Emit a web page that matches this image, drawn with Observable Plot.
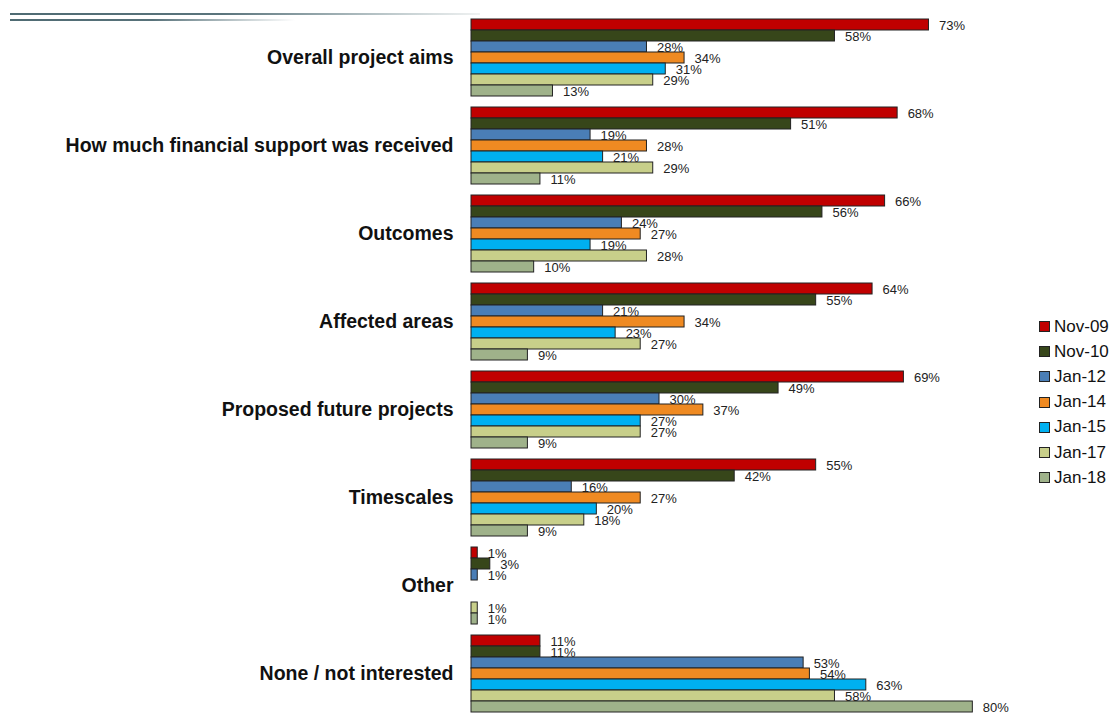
<!DOCTYPE html>
<html>
<head>
<meta charset="utf-8">
<script src="https://cdn.jsdelivr.net/npm/d3@7"></script>
<script src="https://cdn.jsdelivr.net/npm/@observablehq/plot@0.6"></script>
<style>
  html, body { margin: 0; padding: 0; background: #fff; }
  body { font-family: Arial, "Liberation Sans", sans-serif; }
  #wrap { position: relative; width: 1120px; height: 718px; overflow: hidden; }
  #chart { position: absolute; left: 0; top: 0; }
  .deco1 { position: absolute; left: 10px; top: 13px; width: 470px; height: 2px;
    background: linear-gradient(to right, #4f6b73 0%, #5a747c 45%, #c9d3d5 85%, #f0f2f2 100%); }
  .deco2 { position: absolute; left: 10px; top: 19px; width: 285px; height: 2px;
    background: linear-gradient(to right, #4f6b73 0%, #58727a 50%, #d0d8da 85%, #ffffff 100%); }
  #legend { position: absolute; left: 1039px; top: 314px; }
  .li { height: 25.2px; display: flex; align-items: center; font-size: 17px; color: #111; }
  .sw { width: 9px; height: 9px; border: 1px solid #222; margin-right: 4px; }
</style>
</head>
<body>
<div id="wrap">
  <div class="deco1"></div>
  <div class="deco2"></div>
  <div id="chart"></div>
  <div id="legend"></div>
</div>
<script>
const categories = [
  "Overall project aims",
  "How much financial support was received",
  "Outcomes",
  "Affected areas",
  "Proposed future projects",
  "Timescales",
  "Other",
  "None / not interested"
];
const series = ["Nov-09", "Nov-10", "Jan-12", "Jan-14", "Jan-15", "Jan-17", "Jan-18"];
const colors = ["#c00000", "#37461a", "#4a7eb6", "#ef8a22", "#00b0f0", "#c8cf8a", "#9fb28a"];

const nov09 = [73, 68, 66, 64, 69, 55, 1, 11];
const nov10 = [58, 51, 56, 55, 49, 42, 3, 11];
const jan12 = [28, 19, 24, 21, 30, 16, 1, 53];
const jan14 = [34, 28, 27, 34, 37, 27, null, 54];
const jan15 = [31, 21, 19, 23, 27, 20, null, 63];
const jan17 = [29, 29, 28, 27, 27, 18, 1, 58];
const jan18 = [13, 11, 10, 9, 9, 9, 1, 80];

const seriesValues = [nov09, nov10, jan12, jan14, jan15, jan17, jan18];

const data = [];
categories.forEach((c, i) => {
  series.forEach((s, j) => {
    const v = seriesValues[j][i];
    if (v != null) data.push({category: c, series: s, value: v});
  });
});

const plot = Plot.plot({
  width: 1120,
  height: 718,
  marginLeft: 471,
  marginRight: 85,
  marginTop: 18,
  marginBottom: 4,
  style: {fontFamily: "Arial, 'Liberation Sans', sans-serif", background: "transparent"},
  x: {domain: [0, 90], axis: null},
  y: {domain: series, axis: null, padding: 0},
  fy: {domain: categories, axis: null, paddingInner: 0.1, paddingOuter: 0},
  color: {domain: series, range: colors},
  marks: [
    Plot.barX(data, {
      fy: "category", y: "series", x: "value",
      fill: "series", stroke: "#222", strokeWidth: 1
    }),
    Plot.text(data, {
      fy: "category", y: "series", x: "value",
      text: d => d.value + "%", textAnchor: "start", dx: 10, dy: 1,
      fontSize: 13, fill: "#222"
    }),
    Plot.text(categories, {
      fy: d => d, text: d => d, frameAnchor: "left", textAnchor: "end",
      dx: -18, fontSize: 19.5, fontWeight: "bold", fill: "#111"
    })
  ]
});
document.getElementById("chart").appendChild(plot);

const legend = document.getElementById("legend");
series.forEach((s, j) => {
  const row = document.createElement("div");
  row.className = "li";
  const sw = document.createElement("span");
  sw.className = "sw";
  sw.style.background = colors[j];
  row.appendChild(sw);
  row.appendChild(document.createTextNode(s));
  legend.appendChild(row);
});
</script>
</body>
</html>
